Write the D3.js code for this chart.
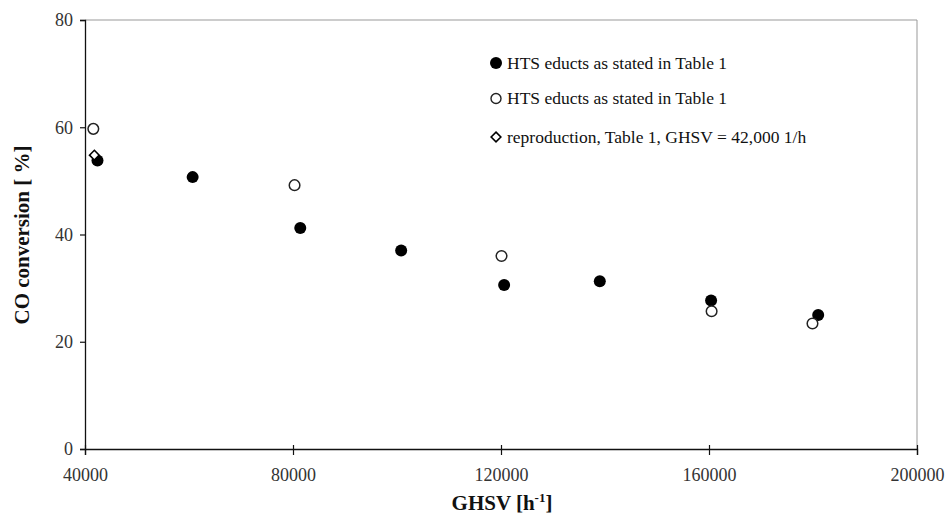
<!DOCTYPE html>
<html><head><meta charset="utf-8">
<script src="https://cdn.jsdelivr.net/npm/d3@7"></script>
<style>
html,body{margin:0;padding:0;background:#fff;}
svg{display:block;font-family:"Liberation Serif","Times New Roman",serif;}
</style></head>
<body>
<svg id="chart" width="946" height="517"></svg>
<script>
const filledX = [42400, 60700, 81400, 100800, 120600, 139000, 160400, 181000];
const filledY = [53.8, 50.7, 41.2, 37.0, 30.6, 31.3, 27.7, 25.0];
const openX = [41600, 80300, 120100, 160500, 179900];
const openY = [59.7, 49.2, 36.0, 25.7, 23.4];
const diamondX = [41800];
const diamondY = [54.8];
const xTicks = [40000, 80000, 120000, 160000, 200000];
const yTicks = [0, 20, 40, 60, 80];
const legendLabels = ["HTS educts as stated in Table 1", "HTS educts as stated in Table 1", "reproduction, Table 1, GHSV = 42,000 1/h"];

const svg = d3.select("#chart");
const FF = "Liberation Serif, Times New Roman, serif";
const L = 85, R = 917, T = 20, B = 449;
const x = d3.scaleLinear().domain([40000, 200000]).range([L, R]);
const y = d3.scaleLinear().domain([0, 80]).range([B, T]);

// frame top/right
svg.append("line").attr("x1", L).attr("x2", R).attr("y1", T).attr("y2", T).attr("stroke", "#999").attr("stroke-width", 1);
svg.append("line").attr("x1", R).attr("x2", R).attr("y1", T).attr("y2", B).attr("stroke", "#999").attr("stroke-width", 1);

const xAxis = svg.append("g").attr("transform", `translate(0,${B})`)
  .call(d3.axisBottom(x).tickValues(xTicks).tickFormat(d3.format("d")).tickSizeOuter(0).tickSize(6).tickPadding(13));
xAxis.selectAll(".tick line").attr("y1", -4);
const yAxis = svg.append("g").attr("transform", `translate(${L},0)`)
  .call(d3.axisLeft(y).tickValues(yTicks).tickFormat(d3.format("d")).tickSizeOuter(0).tickSize(5).tickPadding(7));
[xAxis, yAxis].forEach(g => {
  g.attr("font-family", FF);
  g.select(".domain").attr("stroke", "#111").attr("stroke-width", 1.3);
  g.selectAll(".tick line").attr("stroke", "#111").attr("stroke-width", 1.2);
  g.selectAll(".tick text").attr("fill", "#333").style("font-size", "18px").style("font-family", FF);
});

// points
svg.append("g").selectAll("circle").data(filledX.map((d, i) => [d, filledY[i]])).join("circle")
  .attr("cx", d => x(d[0])).attr("cy", d => y(d[1])).attr("r", 6).attr("fill", "#000");
svg.append("g").selectAll("circle").data(openX.map((d, i) => [d, openY[i]])).join("circle")
  .attr("cx", d => x(d[0])).attr("cy", d => y(d[1])).attr("r", 5.3).attr("fill", "#fff").attr("stroke", "#222").attr("stroke-width", 1.5);
const dia = d3.symbol().type(d3.symbolDiamond2).size(60);
svg.append("g").selectAll("path").data(diamondX.map((d, i) => [d, diamondY[i]])).join("path")
  .attr("transform", d => `translate(${x(d[0])},${y(d[1])})`).attr("d", dia)
  .attr("fill", "#fff").attr("stroke", "#000").attr("stroke-width", 1.6);

// legend
const lg = svg.append("g");
const ly = [63, 98.5, 137];
lg.append("circle").attr("cx", 496).attr("cy", ly[0]).attr("r", 6).attr("fill", "#000");
lg.append("circle").attr("cx", 496).attr("cy", ly[1]).attr("r", 5).attr("fill", "#fff").attr("stroke", "#222").attr("stroke-width", 1.4);
lg.append("path").attr("transform", `translate(496,${ly[2]})`).attr("d", d3.symbol().type(d3.symbolDiamond2).size(60))
  .attr("fill", "#fff").attr("stroke", "#000").attr("stroke-width", 1.6);
legendLabels.forEach((t, i) => {
  lg.append("text").attr("x", 507).attr("y", ly[i] + 5.5).text(t)
    .style("font-size", "17.5px").style("font-family", FF).attr("fill", "#111");
});

// axis titles
svg.append("text").attr("x", 502).attr("y", 510).attr("text-anchor", "middle")
  .style("font-size", "21px").style("font-weight", "bold").style("font-family", FF).attr("fill", "#111")
  .html('GHSV [h<tspan dy="-8" font-size="13px">-1</tspan><tspan dy="8">]</tspan>');
svg.append("text").attr("transform", "translate(29,235) rotate(-90)").attr("text-anchor", "middle")
  .style("font-size", "21px").style("font-weight", "bold").style("font-family", FF).attr("fill", "#111")
  .text("CO conversion [ %]");
</script>
</body></html>
